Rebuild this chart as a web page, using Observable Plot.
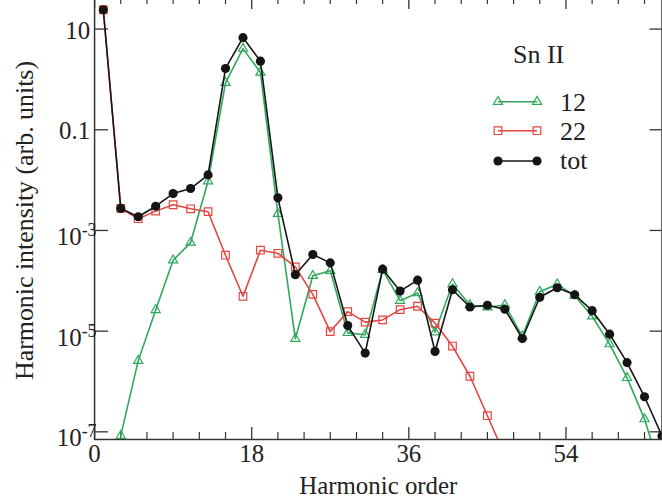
<!DOCTYPE html>
<html><head><meta charset="utf-8">
<script src="https://cdn.jsdelivr.net/npm/d3@7"></script>
<script src="https://cdn.jsdelivr.net/npm/@observablehq/plot@0.6"></script>
<style>
html,body{margin:0;padding:0;overflow:hidden;background:#fff;width:662px;height:504px}
#wrap{position:relative;width:662px;height:504px;overflow:hidden}
#chart{position:absolute;left:0;top:-3px}
#legend{position:absolute;left:0;top:0}
</style></head><body>
<div id="wrap"><div id="chart"></div><svg id="legend" width="662" height="504"></svg></div>
<script>
// ---- data ----
const harmTot = [1,3,5,7,9,11,13,15,17,19,21,23,25,27,29,31,33,35,37,39,41,43,45,47,49,51,53,55,57,59,61,63,65];
const tot = [24.2,2.74e-3,1.87e-3,3.03e-3,5.4e-3,6.8e-3,1.27e-2,1.65,6.76,2.30,4.45e-3,1.32e-4,3.33e-4,2.27e-4,1.29e-5,3.67e-6,1.70e-4,6.25e-5,1.03e-4,3.95e-6,6.64e-5,3.02e-5,3.27e-5,2.72e-5,7.14e-6,4.70e-5,7.28e-5,5.28e-5,2.55e-5,8.71e-6,2.37e-6,4.97e-7,8.3e-8];
const harm12 = [3,5,7,9,11,13,15,17,19,21,23,25,27,29,31,33,35,37,39,41,43,45,47,49,51,53,55,57,59,61,63,65];
const s12 = [8.4e-8,2.59e-6,2.64e-5,2.56e-4,5.74e-4,9.46e-3,0.857,4.09,1.37,2.15e-3,7.05e-6,1.26e-4,1.58e-4,9.25e-6,8.45e-6,1.65e-4,4.03e-5,5.71e-5,9.55e-6,8.61e-5,3.31e-5,2.98e-5,3.31e-5,7.9e-6,6.07e-5,8.51e-5,5.06e-5,1.98e-5,5.53e-6,1.18e-6,1.79e-7,1.38e-8];
const harm22 = [1,3,5,7,9,11,13,15,17,19,21,23,25,27,29,31,33,35,37,39,41,43,45,47];
const s22 = [24.2,2.75e-3,1.71e-3,2.42e-3,3.24e-3,2.69e-3,2.36e-3,3.22e-4,4.92e-5,4.05e-4,3.52e-4,1.89e-4,5.38e-5,9.8e-6,2.44e-5,1.51e-5,1.67e-5,2.67e-5,3.12e-5,1.44e-5,5.06e-6,1.27e-6,2.09e-7,3.39e-8];
const seriesNames = ["12","22","tot"];
const legendTitle = "Sn II";
const xTicks = [0,18,36,54];
const xMinor = [3,6,9,12,15,21,24,27,30,33,39,42,45,48,51,57,60,63];
const yTicks = [10,0.1,1e-3,1e-5,1e-7];
const yTickLabels = ["10","0.1","10^-3","10^-5","10^-7"];
const xLabel = "Harmonic order";
const yLabel = "Harmonic intensity (arb. units)";

// ---- styles ----
const font = "'Liberation Serif','Times New Roman',serif";
const green = "#2fa85c", red = "#e2463f", black = "#151515", ink = "#333";
const W = 665, H = 507, mL = 94.5, mR = 0.5, mT = 0, mB = 63;
const plotW = W - mL - mR, plotH = H - mT - mB;

const rows = (xs, vs) => xs.map((h, i) => ({h, v: vs[i]}));
const d12 = rows(harm12, s12), d22 = rows(harm22, s22), dTot = rows(harmTot, tot);
const yPlain = yTicks.map((t, i) => ({t, s: yTickLabels[i]})).filter(d => !d.s.includes("^"));
const ySup = yTicks.map((t, i) => ({t, s: yTickLabels[i]})).filter(d => d.s.includes("^"));

const chart = Plot.plot({
  width: W, height: H, marginLeft: mL, marginRight: mR, marginTop: mT, marginBottom: mB,
  style: {fontFamily: font, background: "transparent", color: "#222"},
  x: {domain: [0, 65], axis: null},
  y: {type: "log", domain: [10 ** -7.152, 10 ** 1.627], axis: null},
  marks: [
    Plot.ruleX(xMinor, {x: d => d, stroke: ink, strokeWidth: 1.2, insetTop: plotH - 7}),
    Plot.ruleX(xMinor, {x: d => d, stroke: ink, strokeWidth: 1.2, insetBottom: plotH - 7}),
    Plot.ruleX(xTicks, {x: d => d, stroke: ink, strokeWidth: 1.3, insetTop: plotH - 12}),
    Plot.ruleX(xTicks, {x: d => d, stroke: ink, strokeWidth: 1.3, insetBottom: plotH - 12}),
    Plot.ruleY(yTicks, {y: d => d, stroke: ink, strokeWidth: 1.3, insetRight: plotW - 14}),
    Plot.ruleY(yTicks, {y: d => d, stroke: ink, strokeWidth: 1.3, insetLeft: plotW - 12}),
    Plot.frame({stroke: ink, strokeWidth: 1.5}),
    Plot.line(d12, {x: "h", y: "v", stroke: green, strokeWidth: 1.6, clip: true}),
    Plot.dot(d12, {x: "h", y: "v", symbol: "triangle", r: 3.4, stroke: green, strokeWidth: 1.2, fill: "none", clip: true}),
    Plot.line(d22, {x: "h", y: "v", stroke: red, strokeWidth: 1.6, clip: true}),
    Plot.dot(d22, {x: "h", y: "v", symbol: "square", r: 4.3, stroke: red, strokeWidth: 1.2, fill: "none", clip: true}),
    Plot.line(dTot, {x: "h", y: "v", stroke: black, strokeWidth: 1.6, clip: true}),
    Plot.dot(dTot, {x: "h", y: "v", r: 4.6, fill: black, stroke: "none", clip: true}),
    Plot.text(xTicks, {x: d => d, text: d => String(d), frameAnchor: "bottom", dy: 15, lineAnchor: "middle", fontSize: 25, fill: "#222"}),
    Plot.text(yPlain, {y: "t", text: "s", frameAnchor: "left", dx: -4.5, dy: 1.6, textAnchor: "end", lineAnchor: "middle", fontSize: 25, fill: "#222"}),
    Plot.text(ySup, {y: "t", text: "s", frameAnchor: "left", dx: 2, dy: 6.5, textAnchor: "end", lineAnchor: "middle", fontSize: 25, fill: "#222"}),
    Plot.text([xLabel], {text: d => d, frameAnchor: "bottom", dy: 47, textAnchor: "middle", lineAnchor: "middle", fontSize: 25, fill: "#222"}),
    Plot.text([yLabel], {text: d => d, frameAnchor: "left", dx: -70, dy: 2, rotate: -90, textAnchor: "middle", lineAnchor: "middle", fontSize: 26, fill: "#222"})
  ]
});
document.getElementById("chart").appendChild(chart);

// superscripts for 10^n labels
d3.select(chart).selectAll("text").each(function () {
  const s = this.textContent;
  const m = s.match(/^(\d+)\^(-?\d+)$/);
  if (!m) return;
  const t = d3.select(this);
  t.text(null);
  t.append("tspan").text(m[1]);
  t.append("tspan").attr("dy", -9).attr("font-size", 18).text(m[2]);
});

// legend
const lg = d3.select("#legend").style("font-family", font);
lg.append("text").attr("x", 513).attr("y", 63).attr("font-size", 26).attr("fill", "#222").text(legendTitle);
const items = [
  {name: seriesNames[0], color: green, y: 101.7, ty: 111, kind: "tri"},
  {name: seriesNames[1], color: red, y: 130.7, ty: 140, kind: "sq"},
  {name: seriesNames[2], color: black, y: 161, ty: 168.5, kind: "dot"}
];
for (const it of items) {
  lg.append("line").attr("x1", 498).attr("x2", 537).attr("y1", it.y).attr("y2", it.y)
    .attr("stroke", it.color).attr("stroke-width", 1.6);
  for (const x of [498, 537]) {
    if (it.kind === "dot") {
      lg.append("circle").attr("cx", x).attr("cy", it.y).attr("r", 4.6).attr("fill", it.color);
    } else {
      const sym = it.kind === "tri" ? d3.symbolTriangle : d3.symbolSquare;
      const r = it.kind === "tri" ? 3.4 : 4.3;
      lg.append("path").attr("d", d3.symbol(sym, Math.PI * r * r)())
        .attr("transform", `translate(${x},${it.y})`)
        .attr("fill", "none").attr("stroke", it.color).attr("stroke-width", 1.2);
    }
  }
  lg.append("text").attr("x", 560).attr("y", it.ty).attr("font-size", 26).attr("fill", "#222").text(it.name);
}
</script>
</body></html>
